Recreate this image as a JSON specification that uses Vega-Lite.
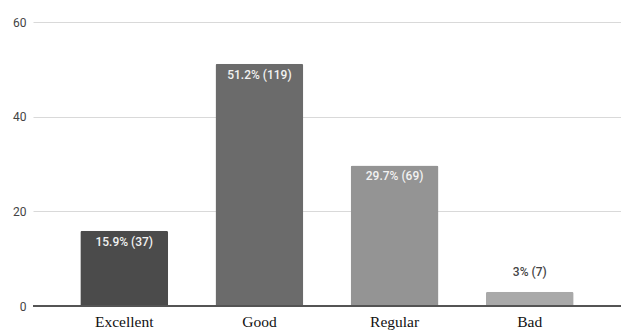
{
  "$schema": "https://vega.github.io/schema/vega-lite/v6.json",
  "autosize": "none",
  "width": 588,
  "height": 284,
  "padding": {"left": 33, "top": 22, "right": 0, "bottom": 25},
  "background": "white",
  "config": {"view": {"stroke": null}},
  "data": {
    "values": [
      {"rating": "Excellent", "pct": 15.9, "count": 37, "label": "15.9% (37)", "inside": "yes", "color": "#4b4b4b"},
      {"rating": "Good", "pct": 51.2, "count": 119, "label": "51.2% (119)", "inside": "yes", "color": "#6b6b6b"},
      {"rating": "Regular", "pct": 29.7, "count": 69, "label": "29.7% (69)", "inside": "yes", "color": "#949494"},
      {"rating": "Bad", "pct": 3, "count": 7, "label": "3% (7)", "inside": "no", "color": "#a9a9a9"}
    ]
  },
  "encoding": {
    "x": {
      "field": "rating", "type": "nominal", "sort": null,
      "scale": {"paddingInner": 0.35, "paddingOuter": 0.35},
      "axis": {"title": null, "labelAngle": 0, "domain": false, "ticks": false,
        "labelFont": "Liberation Serif, Times New Roman, DejaVu Serif, serif", "labelFontSize": 15.5, "labelColor": "#111",
        "labelPadding": 8}
    },
    "y": {
      "field": "pct", "type": "quantitative",
      "scale": {"domain": [0, 60]},
      "axis": {"title": null, "values": [0, 20, 40, 60], "domain": false, "ticks": false,
        "labelFont": "Roboto", "labelFontSize": 12, "labelColor": "#444", "labelPadding": 7,
        "gridColor": "#d9d9d9", "gridWidth": 1}
    }
  },
  "layer": [
    {
      "mark": {"type": "bar", "cornerRadiusTopLeft": 2, "cornerRadiusTopRight": 2},
      "encoding": {"color": {"field": "color", "type": "nominal", "scale": null}}
    },
    {
      "mark": {"type": "rule", "color": "#555", "strokeWidth": 1.5},
      "encoding": {"y": {"datum": 0}, "x": null}
    },
    {
      "transform": [{"filter": "datum.inside == 'yes'"}],
      "mark": {"type": "text", "baseline": "top", "dy": 6, "font": "Roboto", "fontSize": 12, "fontWeight": 500, "color": "#f2f2f2"},
      "encoding": {"text": {"field": "label"}}
    },
    {
      "transform": [{"filter": "datum.inside == 'no'"}],
      "mark": {"type": "text", "baseline": "bottom", "dy": -13, "font": "Roboto", "fontSize": 12, "fontWeight": 500, "color": "#444"},
      "encoding": {"text": {"field": "label"}}
    }
  ]
}
